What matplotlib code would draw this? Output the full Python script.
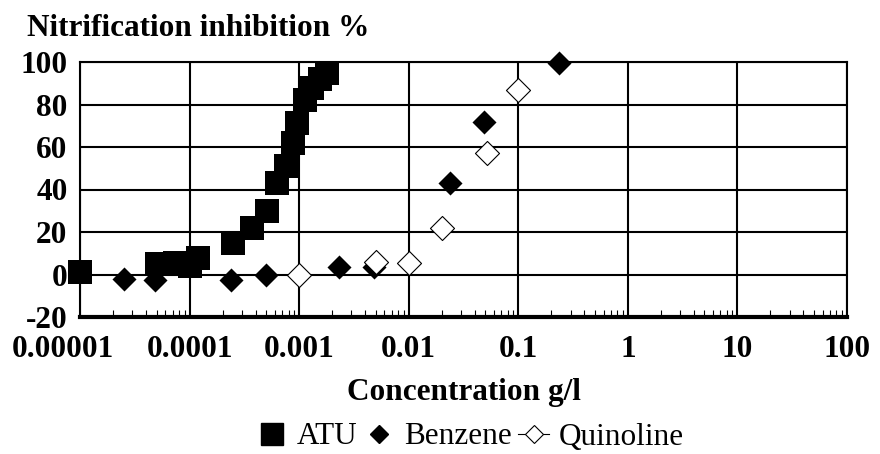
import numpy as np
import matplotlib
matplotlib.use("Agg")
import matplotlib.pyplot as plt
from matplotlib.lines import Line2D
from matplotlib.transforms import ScaledTranslation
from matplotlib.ticker import LogLocator, FixedLocator, NullFormatter

plt.rcParams['font.family'] = ['Liberation Serif', 'DejaVu Serif']
plt.rcParams['axes.unicode_minus'] = False

# ATU (large filled squares)
atu_x = [1.0e-5, 5.0e-5, 7.4e-5, 1.0e-4, 1.2e-4, 2.5e-4, 3.7e-4, 5.1e-4,
         6.3e-4, 7.6e-4, 8.8e-4, 9.6e-4, 1.13e-3, 1.31e-3, 1.56e-3, 1.8e-3]
atu_y = [1, 5, 5.6, 4, 8, 14.6, 22, 30, 43, 51, 62, 71.5, 82, 88, 92, 94.6]

# Benzene (filled diamonds)
benz_x = [2.5e-5, 4.8e-5, 2.4e-4, 5.0e-4, 2.3e-3, 4.8e-3, 0.024, 0.049, 0.237]
benz_y = [-2, -2.5, -2.5, 0, 3.3, 3.3, 43, 72, 99.3]

# Quinoline (open diamonds)
quin_x = [0.001, 0.005, 0.01, 0.02, 0.052, 0.1]
quin_y = [0, 6, 5.6, 22, 57, 87]

x_ticks = [1e-5, 1e-4, 1e-3, 1e-2, 1e-1, 1, 10, 100]
x_labels = ['0.00001', '0.0001', '0.001', '0.01', '0.1', '1', '10', '100']
y_ticks = [-20, 0, 20, 40, 60, 80, 100]

fs = 22.5

fig = plt.figure(figsize=(8.8, 4.54), dpi=100)
ax = fig.add_axes([80 / 880, 1 - 317 / 454, 767 / 880, 255 / 454])

ax.scatter(atu_x, atu_y, marker='s', s=300, c='black', linewidths=0, zorder=3, clip_on=False)
ax.scatter(benz_x, benz_y, marker='D', s=150, c='black', linewidths=0, zorder=3, clip_on=False)
ax.scatter(quin_x, quin_y, marker='D', s=150, facecolors='white', edgecolors='black',
           linewidths=0.8, zorder=3, clip_on=False)

ax.set_xscale('log')
ax.set_xlim(1e-5, 100)
ax.set_ylim(-20, 100)
ax.xaxis.set_major_locator(FixedLocator(x_ticks))
ax.set_xticklabels(x_labels)
ax.xaxis.set_minor_locator(LogLocator(base=10, subs=np.arange(2, 10)))
ax.xaxis.set_minor_formatter(NullFormatter())
ax.set_yticks(y_ticks)

ax.grid(True, which='major', color='black', linewidth=1.5)
ax.set_axisbelow(True)
for sp in ax.spines.values():
    sp.set_linewidth(1.5)
ax.spines['bottom'].set_linewidth(3)

ax.tick_params(axis='x', which='major', length=0, pad=13, labelsize=fs)
ax.tick_params(axis='x', which='minor', direction='in', length=5, width=0.8)
ax.tick_params(axis='y', length=0, pad=9, labelsize=fs)
for lab in ax.get_xticklabels() + ax.get_yticklabels():
    lab.set_fontweight('bold')
# first label sits a bit left of its tick, as in the original
first = ax.xaxis.get_major_ticks()[0].label1
first.set_transform(first.get_transform() + ScaledTranslation(-0.17, 0, fig.dpi_scale_trans))

fig.text(27 / 880, 1 - 28 / 454, 'Nitrification inhibition %', fontsize=fs,
         fontweight='bold', va='center', ha='left')
ax.set_xlabel('Concentration g/l', fontsize=fs, fontweight='bold', labelpad=10)

h1 = Line2D([], [], marker='s', markersize=16, color='black', linestyle='none')
h2 = Line2D([], [], marker='D', markersize=9, color='black', linestyle='none')
h3 = Line2D([], [], marker='D', markersize=9, markerfacecolor='white',
            markeredgecolor='black', markeredgewidth=0.8, color='black', linewidth=0.8)
fig.legend([h1, h2, h3], ['ATU', 'Benzene', 'Quinoline'], loc='center',
           bbox_to_anchor=(470 / 880, 1 - 437 / 454), ncol=3, frameon=False,
           fontsize=fs, handletextpad=0.3, columnspacing=0.2, handlelength=1.0)

fig.savefig('out.png', dpi=100)
